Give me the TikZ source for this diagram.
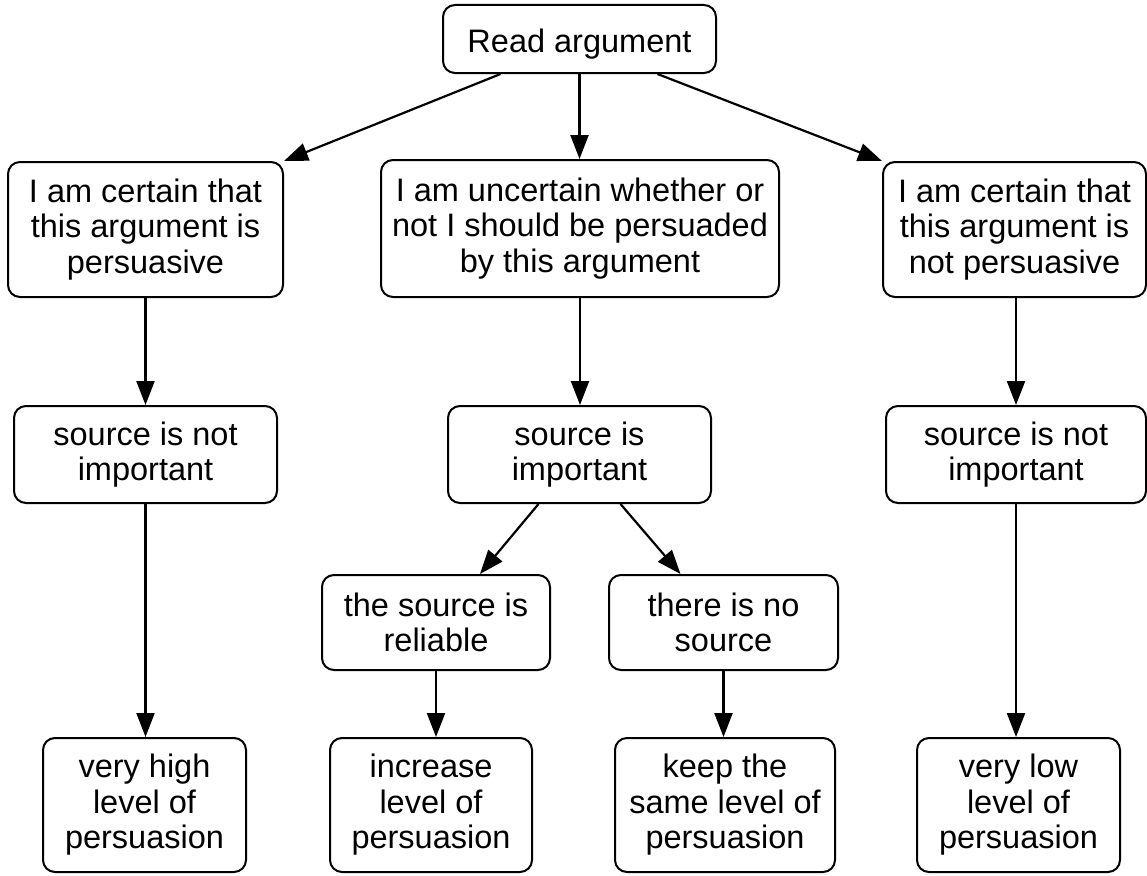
\documentclass[tikz,border=0pt]{standalone}
\usepackage{fontspec}
\setmainfont{Liberation Sans}
\usetikzlibrary{arrows.meta}
\begin{document}
\begin{tikzpicture}[x=1pt,y=-1pt,
  box/.style={draw=black,line width=2pt,rounded corners=12pt,align=center,
    inner sep=0pt,font=\fontsize{32.5}{35.5}\selectfont,fill=white,
    execute at begin node={\rule{0pt}{33pt}}},
  arr/.style={line width=2.2pt,-{Triangle[length=24pt,width=18pt]}}]
\useasboundingbox (0,0) rectangle (1147,875);
\node[box,minimum width=273pt,minimum height=68pt] (read) at (579.5,39) {Read argument};
\node[box,minimum width=275pt,minimum height=135pt] (l1) at (145.5,229.5) {I am certain that\\this argument is\\persuasive};
\node[box,minimum width=398pt,minimum height=137pt] (m1) at (580,228.5) {I am uncertain whether or\\not I should be persuaded\\by this argument};
\node[box,minimum width=263pt,minimum height=135pt] (r1) at (1014.5,229.5) {I am certain that\\this argument is\\not persuasive};
\node[box,minimum width=263pt,minimum height=97pt] (l2) at (145.5,454.5) {source is not\\important};
\node[box,minimum width=263pt,minimum height=97pt] (m2) at (579.5,454.5) {source is\\important};
\node[box,minimum width=260pt,minimum height=97pt] (r2) at (1016,454.5) {source is not\\important};
\node[box,minimum width=228pt,minimum height=95pt] (m3a) at (436,622.5) {the source is\\reliable};
\node[box,minimum width=229pt,minimum height=95pt] (m3b) at (723.5,622.5) {there is no\\source};
\node[box,minimum width=203pt,minimum height=134pt] (b1) at (144.5,805) {very high\\level of\\persuasion};
\node[box,minimum width=202pt,minimum height=134pt] (b2) at (431,805) {increase\\level of\\persuasion};
\node[box,minimum width=220pt,minimum height=134pt] (b3) at (725,805) {keep the\\same level of\\persuasion};
\node[box,minimum width=203pt,minimum height=134pt] (b4) at (1018.5,805) {very low\\level of\\persuasion};
\draw[arr] ([xshift=-79pt]read.south) -- (l1.north east);
\draw[arr] (read.south) -- (read.south |- m1.north);
\draw[arr] ([xshift=78pt]read.south) -- (r1.north west);
\draw[arr] (l1.south) -- (l1.south |- l2.north);
\draw[arr] (m1.south) -- (m1.south |- m2.north);
\draw[arr] (r2.north |- r1.south) -- (r2.north);
\draw[arr] (l2.south) -- (l2.south |- b1.north);
\draw[arr] ([xshift=-41pt]m2.south) -- ([xshift=44pt]m3a.north);
\draw[arr] ([xshift=41pt]m2.south) -- ([xshift=-43pt]m3b.north);
\draw[arr] (m3a.south) -- (m3a.south |- b2.north);
\draw[arr] (m3b.south) -- (m3b.south |- b3.north);
\draw[arr] (r2.south) -- (r2.south |- b4.north);
\end{tikzpicture}
\end{document}
